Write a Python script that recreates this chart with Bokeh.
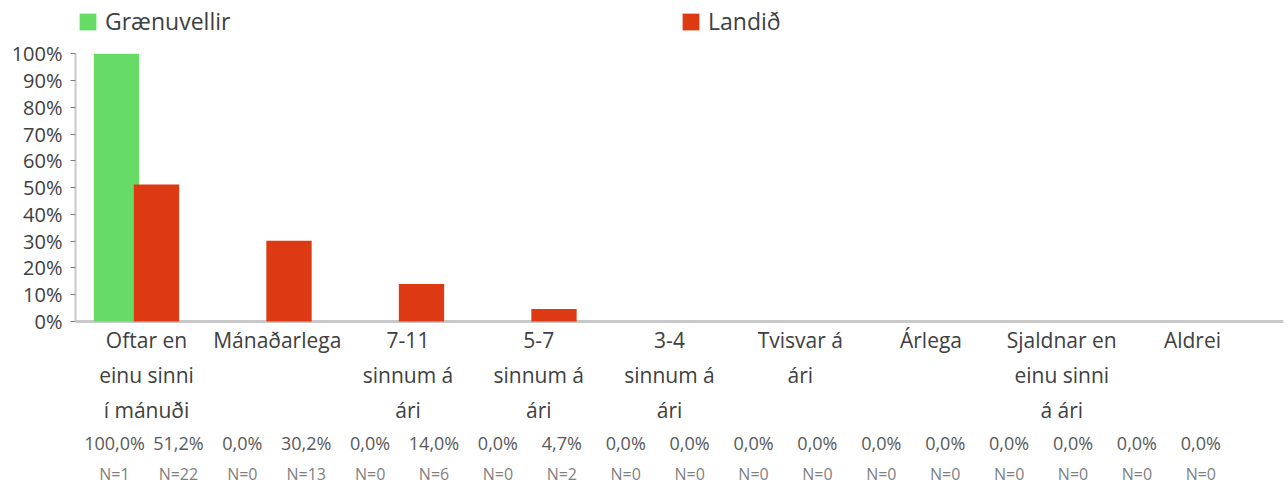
from bokeh.plotting import figure
from bokeh.models import (ColumnDataSource, Range1d, FixedTicker, Legend,
                          LegendItem, Span)
from bokeh.embed import file_html
from bokeh.resources import INLINE
from bokeh.core.properties import value

# ---------------- data ----------------
categories = [
    "Oftar en\neinu sinni\ní mánuði",
    "Mánaðarlega",
    "7-11\nsinnum á\nári",
    "5-7\nsinnum á\nári",
    "3-4\nsinnum á\nári",
    "Tvisvar á\nári",
    "Árlega",
    "Sjaldnar en\neinu sinni\ná ári",
    "Aldrei",
]
series_names = ["Grænuvellir", "Landið"]
graenuvellir = [100.0, 0.0, 0.0, 0.0, 0.0, 0.0, 0.0, 0.0, 0.0]
landid = [51.2, 30.2, 14.0, 4.7, 0.0, 0.0, 0.0, 0.0, 0.0]
n_graenuvellir = [1, 0, 0, 0, 0, 0, 0, 0, 0]
n_landid = [22, 13, 6, 2, 0, 0, 0, 0, 0]
y_ticks = [0, 10, 20, 30, 40, 50, 60, 70, 80, 90, 100]
y_tick_labels = ["0%", "10%", "20%", "30%", "40%", "50%", "60%", "70%", "80%", "90%", "100%"]

# ---------------- styles ----------------
GREEN = "#66dc66"
RED = "#dd3913"
TEXT = "#404040"
FONT = "Open Sans"
W, H = 1288, 487
LEFT = 75
RIGHT = 5

n_cat = len(categories)
xs = list(range(n_cat))

p = figure(width=W, height=H,
           x_range=Range1d(-0.4604, 8.657), y_range=Range1d(-62.01, 119.91),
           output_backend="svg", toolbar_location=None,
           x_axis_location=None, y_axis_location="left",
           min_border_left=LEFT, min_border_right=RIGHT,
           min_border_top=0, min_border_bottom=0)
p.outline_line_color = None
p.grid.visible = False
p.extra_x_ranges = {"cats": Range1d(-0.543, 8.696),
                    "cols": Range1d(-0.6103, 18.294)}
p.extra_y_ranges = {"px": Range1d(H, 0)}

# horizontal axis line at 0 %
p.add_layout(Span(location=0, dimension="width", line_color="#c8c8c8",
                  line_width=3, level="underlay"))

src = ColumnDataSource(dict(
    xg=[x - 0.151 for x in xs], xr=[x + 0.151 for x in xs],
    g=graenuvellir, r=landid))
bar_style = dict(width=0.342, line_color=None)
rg = p.vbar(x="xg", top="g", source=src, fill_color=GREEN, **bar_style)
rr = p.vbar(x="xr", top="r", source=src, fill_color=RED, **bar_style)

ya = p.yaxis[0]
ya.bounds = (0, 100)
ya.ticker = FixedTicker(ticks=y_ticks)
ya.major_label_overrides = {t: l for t, l in zip(y_ticks, y_tick_labels)}
ya.major_label_text_font = FONT
ya.major_label_text_font_size = "20px"
ya.major_label_text_color = TEXT
ya.major_label_standoff = 8
ya.major_tick_out = 5
ya.major_tick_in = 0
ya.major_tick_line_color = "#7f7f7f"
ya.minor_tick_line_color = None
ya.axis_line_color = "#c8c8c8"
ya.axis_line_width = 2

legend_style = dict(orientation="horizontal", padding=0, margin=0,
                    glyph_width=21, glyph_height=21, label_standoff=7,
                    label_text_font=FONT, label_text_font_size="23px",
                    label_text_color=TEXT,
                    border_line_color=None, background_fill_alpha=0)
p.add_layout(Legend(items=[LegendItem(label=series_names[0], renderers=[rg])],
                    location=(2, 450), **legend_style))
p.add_layout(Legend(items=[LegendItem(label=series_names[1], renderers=[rr])],
                    location=(605, 450), **legend_style))

# ---------------- category labels ----------------
cx, cy, ct = [], [], []
for i, c in enumerate(categories):
    for k, line in enumerate(c.split("\n")):
        cx.append(i)
        cy.append(339 + 35 * k)
        ct.append(line)
p.text(x=cx, y=cy, text=ct, x_range_name="cats", y_range_name="px",
       text_align="center", text_baseline="alphabetic",
       text_font=value(FONT), text_font_size="21px", text_color=TEXT)

# ---------------- value / N rows ----------------
def pct(v):
    return f"{v:.1f}".replace(".", ",") + "%"

vx, vt, nt = [], [], []
for i in range(n_cat):
    vx += [2 * i, 2 * i + 1]
    vt += [pct(graenuvellir[i]), pct(landid[i])]
    nt += [f"N={n_graenuvellir[i]}", f"N={n_landid[i]}"]

p.text(x=vx, y=[442] * len(vx), text=vt, x_range_name="cols", y_range_name="px",
       text_align="center", text_baseline="alphabetic",
       text_font=value(FONT), text_font_size="18px", text_color="#595959")
p.text(x=vx, y=[473] * len(vx), text=nt, x_range_name="cols", y_range_name="px",
       text_align="center", text_baseline="alphabetic",
       text_font=value(FONT), text_font_size="16px", text_color="#7f7f7f")

open("out.html", "w").write(file_html(p, INLINE))
